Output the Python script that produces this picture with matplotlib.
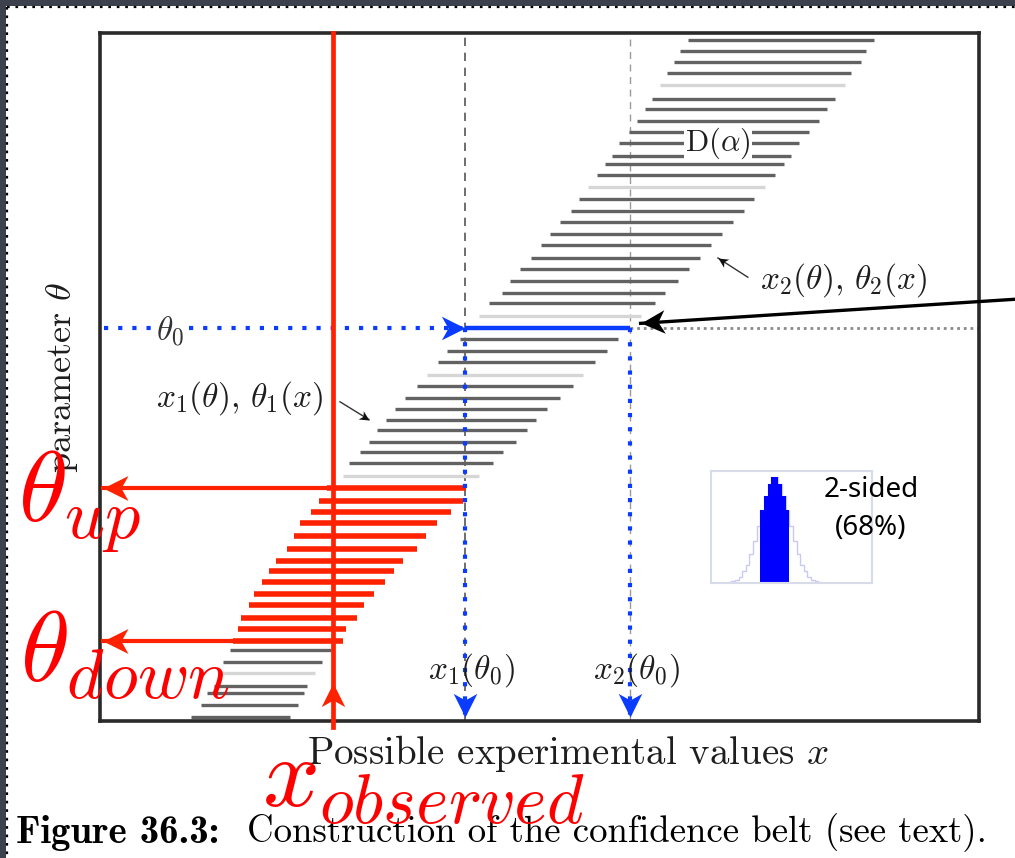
import matplotlib
matplotlib.use("Agg")
import matplotlib.pyplot as plt
from matplotlib.markers import MarkerStyle
from matplotlib.path import Path
from matplotlib.transforms import Affine2D
import numpy as np

plt.rcParams["mathtext.fontset"] = "cm"

W, H = 1015, 858

# confidence belt: one row per parameter value, with its acceptance interval [x1, x2]
# (axes units: 0-100 on both axes)
theta_rows = [99.0, 97.4, 95.8, 94.2, 92.4, 90.4, 89.0, 87.2, 85.6, 84.0,
              82.1, 81.0, 79.4, 77.6, 75.9, 74.1, 72.5, 70.8, 69.2, 67.3,
              65.7, 64.0, 62.2, 60.8, 58.9, 57.1, 55.5, 53.8, 52.2, 50.3,
              48.7, 46.9, 45.3, 43.8, 42.3, 40.6, 39.1, 37.5, 35.6, 33.9,
              32.0, 30.4, 28.8, 26.9, 25.0, 23.3, 21.8, 20.2, 18.5, 16.9,
              15.0, 13.4, 11.6, 10.3, 8.6, 7.0, 5.1, 4.1, 2.3, 0.6]
x1_rows = [66.9, 66.0, 65.3, 64.5, 63.7, 62.8, 62.0, 61.1, 60.2, 59.0,
           58.2, 57.5, 56.5, 55.5, 54.5, 53.6, 52.3, 51.2, 50.2, 49.0,
           47.8, 46.6, 45.7, 44.3, 43.1, 41.5, 41.0, 39.5, 38.5, 37.2,
           36.1, 34.7, 33.6, 32.5, 31.5, 30.6, 29.6, 28.3, 27.6, 25.8,
           24.9, 24.0, 22.8, 22.1, 21.3, 20.0, 19.2, 18.4, 17.5, 16.9,
           16.0, 15.7, 15.1, 14.8, 14.0, 13.4, 13.0, 12.2, 11.5, 10.4]
x2_rows = [88.1, 87.1, 86.6, 85.4, 84.8, 83.6, 82.7, 81.8, 80.7, 79.5,
           78.6, 77.8, 76.8, 75.7, 74.4, 73.3, 72.0, 70.8, 69.5, 68.3,
           67.0, 65.8, 64.3, 63.1, 61.5, 60.3, 58.9, 57.7, 56.3, 54.9,
           53.8, 52.3, 50.9, 49.6, 48.6, 47.3, 45.8, 44.7, 43.1, 41.6,
           41.3, 39.9, 38.3, 37.1, 36.1, 34.5, 33.4, 32.4, 31.2, 30.0,
           29.2, 28.0, 27.6, 26.3, 25.3, 24.5, 23.5, 23.2, 22.5, 21.6]
faint_rows = [4, 13, 24, 29, 38, 55]

theta0 = 57.1
x_obs = 26.5

# small gaussian in the inset (heights relative to peak)
gauss_edges = np.arange(-3.5, 3.51, 0.25)
gauss_heights = [0.0, 0.01, 0.02, 0.03, 0.06, 0.11, 0.17, 0.27, 0.39, 0.53,
                 0.68, 0.82, 0.93, 0.99, 0.99, 0.93, 0.82, 0.68, 0.53, 0.39,
                 0.27, 0.17, 0.11, 0.06, 0.03, 0.02, 0.01, 0.0]

RED = "#ff2200"
BLUE = "#0a3cff"
INK = "#1e1e1e"


def fx(x):
    return x / W


def fy(y):
    return 1 - y / H


def head(angle):
    verts = [(0, 0), (-1, 0.5), (-0.72, 0), (-1, -0.5), (0, 0)]
    codes = [Path.MOVETO, Path.LINETO, Path.LINETO, Path.LINETO, Path.CLOSEPOLY]
    return MarkerStyle(Path(verts, codes), transform=Affine2D().rotate_deg(angle))


fig = plt.figure(figsize=(W / 100, H / 100), dpi=100)

# slide frame
bg = fig.add_axes([0, 0, 1, 1])
bg.set_xlim(0, W)
bg.set_ylim(H, 0)
bg.axis("off")
bg.fill_between([0, W], 0, 6, color="#3d414e", lw=0)
bg.fill_between([0, 6], 0, H, color="#3d414e", lw=0)
bg.plot([7, W], [7, 7], color="black", lw=1.6, ls=(0, (1.2, 2.6)))
bg.plot([7, 7], [7, H], color="black", lw=1.6, ls=(0, (1.2, 2.6)))

ax = fig.add_axes([fx(100), fy(721), 879 / W, 688 / H])
ax.set_xlim(0, 100)
ax.set_ylim(0, 100)
ax.set_xticks([])
ax.set_yticks([])
for s in ax.spines.values():
    s.set_linewidth(2.6)
    s.set_color("#2a2a2a")

i0 = theta_rows.index(theta0)
x1_0, x2_0 = x1_rows[i0], x2_rows[i0]

# guide lines
ax.plot([x1_0, x1_0], [0, 100], color="#555555", lw=1.2, ls=(0, (5, 4)), zorder=1)
ax.plot([x2_0, x2_0], [0, 100], color="#9a9a9a", lw=1.0, ls=(0, (5, 4)), zorder=1)
ax.plot([x2_0, 100], [theta0, theta0], color="#8a8a8a", lw=2.0, ls=(0, (1, 1.4)), zorder=1)

inside = []
for i, (t, a, b) in enumerate(zip(theta_rows, x1_rows, x2_rows)):
    if i == i0:
        continue
    if a <= x_obs <= b:
        inside.append(t)
        ax.plot([a, b], [t, t], color=RED, lw=4.0, solid_capstyle="butt", zorder=4)
    else:
        c = "#d6d6d6" if i in faint_rows else "#626262"
        ax.plot([a, b], [t, t], color=c, lw=2.4, solid_capstyle="butt", zorder=2)
theta_up, theta_down = max(inside), min(inside)

# theta0 construction
ax.plot([x1_0, x2_0], [theta0, theta0], color=BLUE, lw=3.2, solid_capstyle="butt", zorder=5)
ax.plot([0.5, x1_0], [theta0, theta0], color=BLUE, lw=3, ls=(0, (1, 2.4)), zorder=5)
ax.plot([x1_0], [theta0], marker=head(0), ms=34, color=BLUE, mew=0, zorder=6)
for xv in (x1_0, x2_0):
    ax.plot([xv, xv], [theta0, 0.6], color=BLUE, lw=3, ls=(0, (1, 2.4)), zorder=5)
    ax.plot([xv], [0.6], marker=head(-90), ms=34, color=BLUE, mew=0, zorder=6)

# observed x and the resulting interval
ax.plot([x_obs, x_obs], [100, -0.9], color=RED, lw=3.4, clip_on=False, zorder=7)
ax.plot([x_obs], [5.5], marker=head(90), ms=34, color=RED, mew=0, zorder=7)
for tv in (theta_up, theta_down):
    ax.plot([x_obs, 0.3], [tv, tv], color=RED, lw=3.0, zorder=7)
    ax.plot([0.3], [tv], marker=head(180), ms=36, color=RED, mew=0, zorder=7, clip_on=False)

# black pointer to the horizontal acceptance interval
p_start = (104.1, 61.3)
p_tip = (61.5, 57.8)
ax.plot([p_start[0], p_tip[0]], [p_start[1], p_tip[1]], color="black", lw=2.4, clip_on=False, zorder=8)
fig.canvas.draw()
d0 = ax.transData.transform(p_start)
d1 = ax.transData.transform(p_tip)
ang = np.degrees(np.arctan2(d1[1] - d0[1], d1[0] - d0[0]))
ax.plot([p_tip[0]], [p_tip[1]], marker=head(ang), ms=34, color="black", mew=0, zorder=8)

# small label pointers
for s0, s1 in (((73.7, 64.5), (70.3, 67.3)), ((27.3, 46.4), (30.6, 43.8))):
    ax.plot([s0[0], s1[0]], [s0[1], s1[1]], color="#333333", lw=1.0, zorder=8)
    a0 = ax.transData.transform(s0)
    a1 = ax.transData.transform(s1)
    ang = np.degrees(np.arctan2(a1[1] - a0[1], a1[0] - a0[0]))
    ax.plot([s1[0]], [s1[1]], marker=head(ang), ms=14, color="#111111", mew=0, zorder=8)

# inset with the 2-sided gaussian
ins = fig.add_axes([fx(711), fy(583), 161 / W, 112 / H])
ins.set_xlim(-4.4, 6.7)
ins.set_ylim(0, 1.05)
ins.set_xticks([])
ins.set_yticks([])
for s in ins.spines.values():
    s.set_color("#d8dbe8")
    s.set_linewidth(1.5)
centers = (gauss_edges[:-1] + gauss_edges[1:]) / 2
core = np.where(np.abs(centers) < 1, gauss_heights, 0)
ins.stairs(gauss_heights, gauss_edges, color="#c9c9f2", lw=1.0)
ins.stairs(core, gauss_edges, fill=True, color="#0000ff")

fig.text(fx(871), fy(490), "2-sided", ha="center", va="center", fontsize=20,
         family="Noto Sans", color="black")
fig.text(fx(871), fy(528), "(68%)", ha="center", va="center", fontsize=20,
         family="Noto Sans", color="black")

# labels
wbox = dict(facecolor="white", edgecolor="none", pad=1)
fig.text(fx(718), fy(143), r"$\mathrm{D}(\alpha)$", ha="center", va="center",
         fontsize=22, color=INK, bbox=wbox)
fig.text(fx(760), fy(280), r"$x_2(\theta),\,\theta_2(x)$", ha="left", va="center",
         fontsize=24, color=INK)
fig.text(fx(240), fy(398), r"$x_1(\theta),\,\theta_1(x)$", ha="center", va="center",
         fontsize=24, color=INK)
fig.text(fx(156), fy(331), r"$\theta_0$", ha="left", va="center", fontsize=24,
         color="#333333", bbox=dict(facecolor="white", edgecolor="none", pad=0.5))
fig.text(fx(471), fy(670), r"$x_1(\theta_0)$", ha="center", va="center", fontsize=24,
         color=INK)
fig.text(fx(636), fy(670), r"$x_2(\theta_0)$", ha="center", va="center", fontsize=24,
         color=INK)
fig.text(fx(62), fy(377), r"parameter $\theta$", ha="center", va="center",
         rotation=90, fontsize=26, family="cmr10", color=INK)
fig.text(fx(568), fy(753), r"Possible experimental values $x$",
         ha="center", va="center", fontsize=28, family="cmr10", color=INK)
cap = fig.text(fx(16), fy(833), "Figure 36.3:", ha="left", va="center",
               fontsize=28, family="cmb10", color="black")
bg.annotate("Construction of the confidence belt (see text).", xy=(1, 0.5),
            xycoords=cap, xytext=(20, 0), textcoords="offset points",
            ha="left", va="center", fontsize=26.5, family="cmr10", color="black")

fig.text(fx(18), fy(522), r"$\theta_{up}$", ha="left", va="baseline", fontsize=72, color="red")
fig.text(fx(20), fy(682), r"$\theta_{down}$", ha="left", va="baseline", fontsize=72, color="red")
fig.text(fx(262), fy(807), r"$x_{observed}$", ha="left", va="baseline", fontsize=72, color="red")

fig.savefig("out.png", dpi=100)
